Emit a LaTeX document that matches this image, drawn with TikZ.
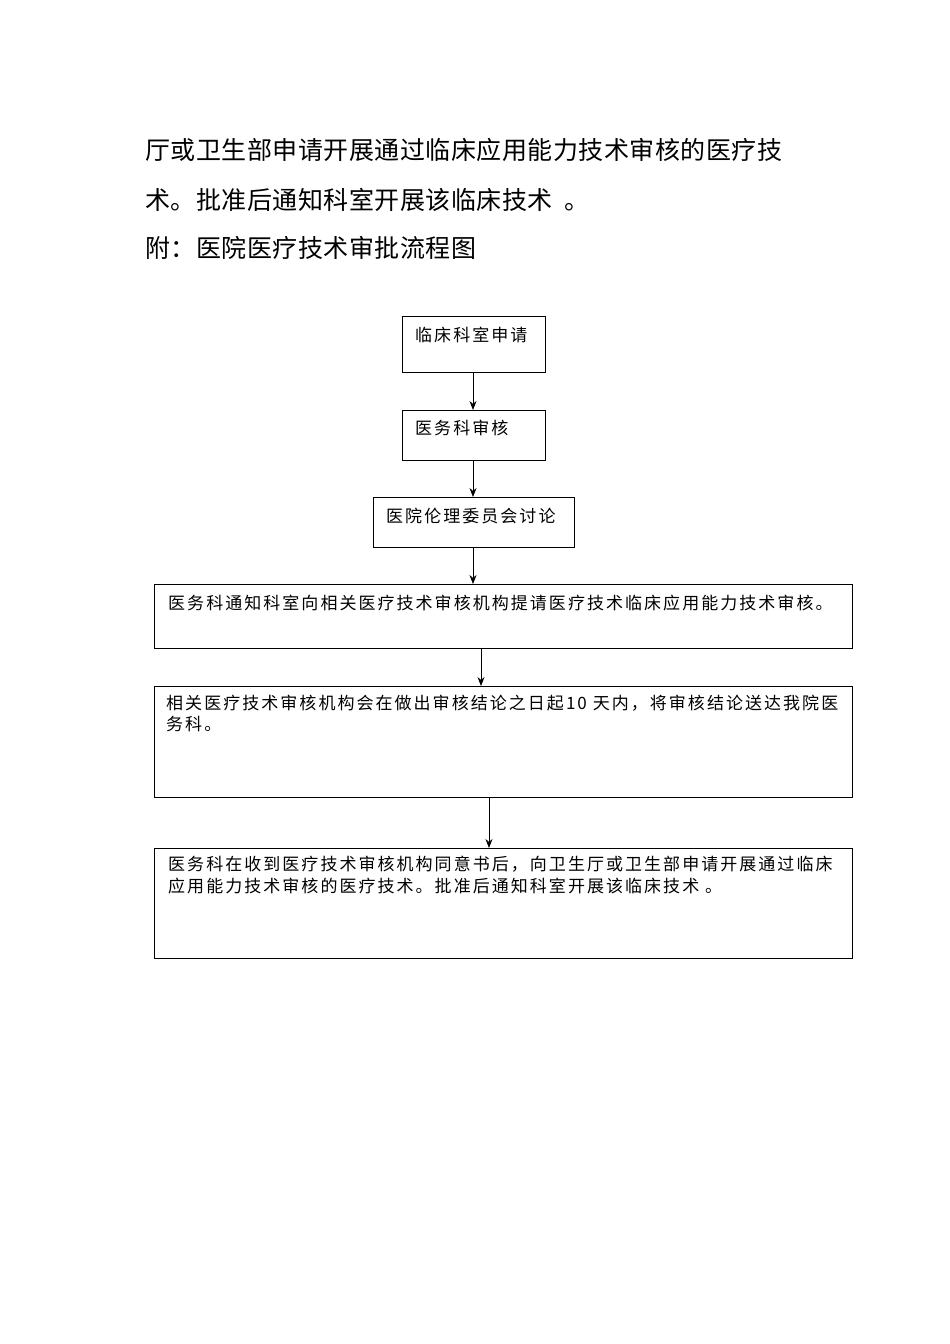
\documentclass[tikz,border=0pt]{standalone}
\usepackage{fontspec}
\setmainfont{Noto Sans CJK SC}
\newfontfamily\boxfont{Noto Sans CJK SC}[LetterSpace=12]
\newfontfamily\topfont{Noto Sans CJK SC}[LetterSpace=2]
\usetikzlibrary{arrows.meta}
\begin{document}
\begin{tikzpicture}[x=1pt,y=-1pt,
  box/.style={draw,line width=0.9pt},
  big/.style={anchor=west,inner sep=0pt,font=\topfont\fontsize{25}{27}\selectfont},
  small/.style={anchor=west,inner sep=0pt,font=\boxfont\fontsize{17}{19}\selectfont},
  arr/.style={-{Stealth[length=9pt,width=7pt]},line width=0.9pt}]
\useasboundingbox (0,0) rectangle (950,1344);
\node[big] (t1) at (145,150) {厅或卫生部申请开展通过临床应用能力技术审核的医疗技};
\node[big] (t2) at (145,200) {术。批准后通知科室开展该临床技术\ \ 。};
\node[big] (t3) at (145,248) {附：医院医疗技术审批流程图};

\draw[box] (402,316) rectangle (545,372);
\coordinate (b1t) at (473,316); \coordinate (b1b) at (473,372);
\node[small] (l1) at (415,335) {临床科室申请};
\draw[box] (402,410) rectangle (545,460);
\coordinate (b2t) at (473,410); \coordinate (b2b) at (473,460);
\node[small] (l2) at (415,428) {医务科审核};
\draw[box] (373,497) rectangle (574,547);
\coordinate (b3t) at (473,497); \coordinate (b3b) at (473,547);
\node[small] (l3) at (386,516) {医院伦理委员会讨论};
\draw[box] (154,584) rectangle (852,648);
\coordinate (b4t) at (473,584); \coordinate (b4b) at (481,648);
\node[small] (l4) at (168,603) {医务科通知科室向相关医疗技术审核机构提请医疗技术临床应用能力技术审核。};
\draw[box] (154,686) rectangle (852,797);
\coordinate (b5t) at (481,686); \coordinate (b5b) at (489,797);
\node[small] (l5a) at (166,703) {相关医疗技术审核机构会在做出审核结论之日起10\ 天内，将审核结论送达我院医};
\node[small] (l5b) at (166,724) {务科。};
\draw[box] (154,848) rectangle (852,958);
\coordinate (b6t) at (489,848);
\node[small] (l6a) at (168,864) {医务科在收到医疗技术审核机构同意书后，向卫生厅或卫生部申请开展通过临床};
\node[small] (l6b) at (168,886) {应用能力技术审核的医疗技术。批准后通知科室开展该临床技术\ 。};

\draw[arr] (b1b) -- (b2t);
\draw[arr] (b2b) -- (b3t);
\draw[arr] (b3b) -- (b4t);
\draw[arr] (b4b) -- (b5t);
\draw[arr] (b5b) -- (b6t);
\end{tikzpicture}
\end{document}
